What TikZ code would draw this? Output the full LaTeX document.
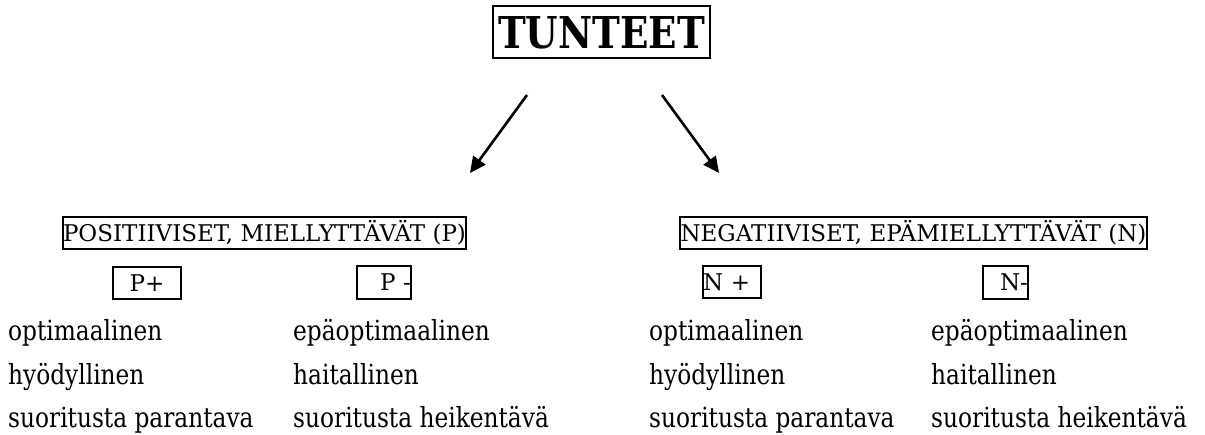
\documentclass[tikz,border=0pt]{standalone}
\usepackage{fontspec}
\setmainfont{DejaVu Serif}
\newfontfamily\bodyfont[FakeStretch=0.84]{DejaVu Serif}
\newfontfamily\catfont{DejaVu Serif}
\newfontfamily\titlefont[FakeStretch=0.85]{DejaVu Serif}
\usetikzlibrary{arrows.meta}
\begin{document}
\begin{tikzpicture}[x=1pt,y=-1pt,
  frame/.style={draw=black,line width=1.6pt,inner sep=0pt,outer sep=0pt},
  body/.style={anchor=base west,inner sep=0pt,font=\bodyfont\fontsize{27.7}{32}\selectfont},
  cat/.style={frame,font=\catfont\fontsize{23}{27}\selectfont,text height=16.8pt,text depth=0pt},
  arr/.style={line width=2.6pt,-{Triangle[length=16pt,width=15pt]}}]
\useasboundingbox[fill=white] (0,0) rectangle (1205,434);
% title
\node[frame,minimum width=217pt,minimum height=52pt,text height=32pt,text depth=0pt,
      font=\titlefont\bfseries\fontsize{43.9}{48}\selectfont] (title) at (601.5,32) {TUNTEET};
% arrows
\coordinate (la) at (527,95);
\coordinate (lb) at (470,173);
\coordinate (ra) at (662,95);
\coordinate (rb) at (719,173);
\draw[arr] (la) -- (lb);
\draw[arr] (ra) -- (rb);
% category boxes
\node[cat,minimum width=403pt,minimum height=32pt] (pos) at (264.5,233) {POSITIIVISET, MIELLYTTÄVÄT (P)};
\node[cat,minimum width=467pt,minimum height=32pt] (neg) at (913.5,233) {NEGATIIVISET, EPÄMIELLYTTÄVÄT (N)};
% sub boxes
\node[cat,minimum width=68pt,minimum height=32pt] (pp) at (147,283) {P+};
\node[cat,minimum width=54pt,minimum height=33pt,text width=54pt,align=right] (pm) at (384,282.5) {P -};
\node[cat,minimum width=58pt,minimum height=32pt,text width=58pt,align=left] (np) at (732,282) {N +};
\node[cat,minimum width=45pt,minimum height=33pt,text width=45pt,align=right] (nm) at (1005.5,282.5) {N-};
% lists
\node[body] (a1) at (8,340) {optimaalinen};
\node[body] (a2) at (8,384) {hyödyllinen};
\node[body] (a3) at (8,427) {suoritusta parantava};
\node[body] (b1) at (293,340) {epäoptimaalinen};
\node[body] (b2) at (293,384) {haitallinen};
\node[body] (b3) at (293,427) {suoritusta heikentävä};
\node[body] (c1) at (649,340) {optimaalinen};
\node[body] (c2) at (649,384) {hyödyllinen};
\node[body] (c3) at (649,427) {suoritusta parantava};
\node[body] (d1) at (931,340) {epäoptimaalinen};
\node[body] (d2) at (931,384) {haitallinen};
\node[body] (d3) at (931,427) {suoritusta heikentävä};
\end{tikzpicture}
\end{document}
